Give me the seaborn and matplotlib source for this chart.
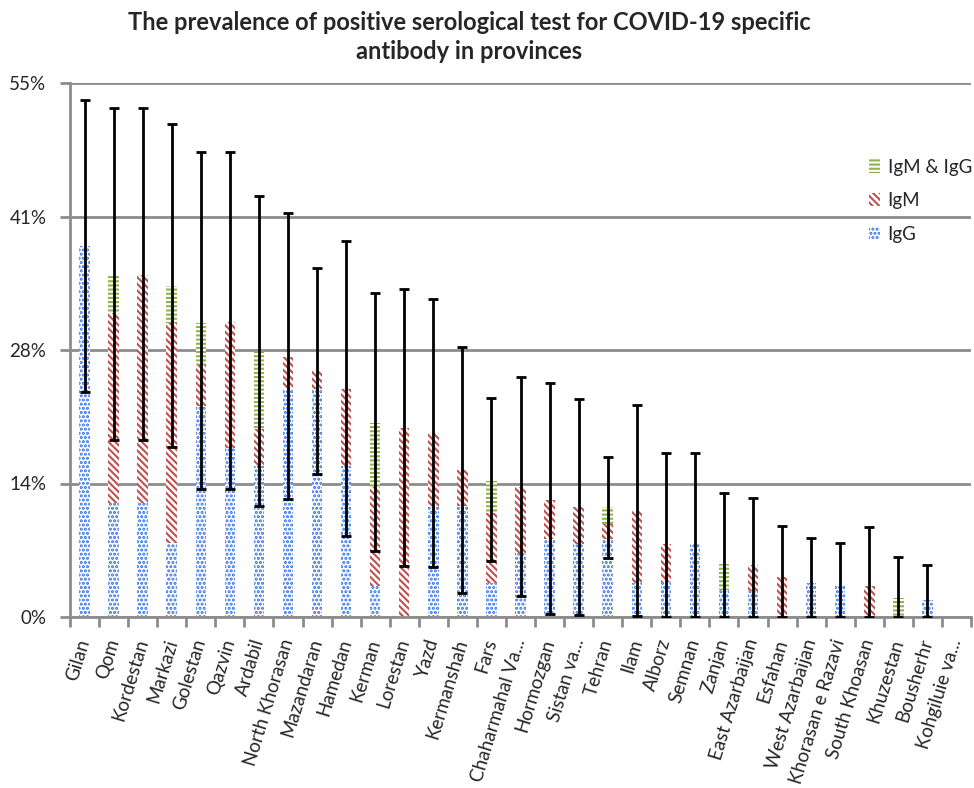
import numpy as np
import pandas as pd
import seaborn as sns
import matplotlib.pyplot as plt
from matplotlib.patches import Patch

# values (percent)
provinces = ["Gilan", "Qom", "Kordestan", "Markazi", "Golestan", "Qazvin", "Ardabil",
             "North Khorasan", "Mazandaran", "Hamedan", "Kerman", "Lorestan", "Yazd",
             "Kermanshah", "Fars", "Chaharmahal Va...", "Hormozgan", "Sistan va...",
             "Tehran", "Ilam", "Alborz", "Semnan", "Zanjan", "East Azarbaijan", "Esfahan",
             "West Azarbaijan", "Khorasan e Razavi", "South Khoasan", "Khuzestan",
             "Bousherhr", "Kohgiluie va..."]
igg = [38.2, 11.7, 11.7, 7.6, 21.7, 17.4, 15.6, 23.5, 23.5, 15.6, 3.2, 0.0, 11.3,
       11.4, 3.5, 6.6, 8.0, 7.5, 8.0, 3.5, 3.6, 7.5, 2.8, 2.7, 0.0, 3.5, 3.2, 0.0,
       0.0, 1.8, 0.0]
igm = [0.0, 19.6, 23.5, 22.7, 4.3, 13.0, 3.8, 3.3, 1.8, 7.9, 10.2, 19.5, 7.6,
       3.7, 7.2, 6.8, 4.1, 3.8, 1.6, 7.4, 3.9, 0.0, 0.0, 2.7, 4.1, 0.0, 0.0, 3.2,
       0.0, 0.0, 0.0]
igm_igg = [0.0, 3.8, 0.0, 3.8, 4.3, 0.0, 7.9, 0.0, 0.0, 0.0, 6.6, 0.0, 0.0,
           0.0, 3.3, 0.0, 0.0, 0.0, 1.7, 0.0, 0.0, 0.0, 2.7, 0.0, 0.0, 0.0, 0.0, 0.0,
           2.0, 0.0, 0.0]
ci_low = [23.2, 18.2, 18.2, 17.5, 13.2, 13.2, 11.4, 12.2, 14.7, 8.3, 6.8, 5.3, 5.1,
          2.5, 5.8, 2.2, 0.3, 0.2, 6.1, 0.1, 0.0, 0.0, 0.0, 0.0, 0.0, 0.0, 0.0, 0.0,
          0.0, 0.0, 0.0]
ci_high = [53.2, 52.4, 52.4, 50.8, 47.9, 47.9, 43.4, 41.6, 35.9, 38.7, 33.4, 33.8, 32.8,
           27.8, 22.6, 24.7, 24.1, 22.5, 16.5, 21.8, 16.9, 16.9, 12.8, 12.3, 9.4, 8.1,
           7.6, 9.3, 6.2, 5.4, 0.0]

ytick_vals = [0, 13.75, 27.5, 41.25, 55]
ytick_labels = ["0%", "14%", "28%", "41%", "55%"]

blue = "#2f6fe4"
red = "#c0504d"
green = "#8fb34a"
grid_gray = "#8c8c8c"
hatches = {'total': '----', 'igg_igm': '\\\\\\\\\\', 'IgG': '....'}

sns.set_theme(style="white")
plt.rcParams['font.family'] = ['Lato', 'DejaVu Sans']
plt.rcParams['hatch.linewidth'] = 1.5

df = pd.DataFrame({'province': provinces, 'IgG': igg, 'IgM': igm, 'IgM & IgG': igm_igg})
df['igg_igm'] = df['IgG'] + df['IgM']
df['total'] = df['igg_igm'] + df['IgM & IgG']

fig = plt.figure(figsize=(9.74, 7.88), dpi=100)
ax = fig.add_axes([70 / 974, 171 / 788, 901 / 974, 534 / 788])

# stacked bars drawn back to front
layers = [('total', green), ('igg_igm', red), ('IgG', blue)]
for col, c in layers:
    sns.barplot(data=df, x='province', y=col, color='white', width=0.36,
                errorbar=None, ax=ax, zorder=2)
    for bar in ax.containers[-1]:
        bar.set_facecolor('white')
        bar.set_edgecolor(c)
        bar.set_hatch(hatches[col])
        bar.set_linewidth(0)

# error bars only where there is an interval
x = np.arange(len(provinces))
tot = df['total'].values
lo = np.array(ci_low)
hi = np.array(ci_high)
m = hi > 0
ax.errorbar(x[m], tot[m], yerr=[tot[m] - lo[m], hi[m] - tot[m]], fmt='none', ecolor='black',
            elinewidth=2, capsize=3.5, capthick=2, zorder=4)

ax.set_xlim(-0.5, len(provinces) - 0.5)
ax.set_ylim(0, 55)
ax.set_yticks(ytick_vals)
ax.set_yticklabels(ytick_labels, fontsize=13.5)
ax.yaxis.grid(True, color=grid_gray, linewidth=2)
ax.set_axisbelow(True)
ax.tick_params(axis='y', which='major', left=True, length=7, width=2, color=grid_gray, pad=10)

ax.set_xticks(x)
ax.set_xticklabels(provinces, rotation=73, ha='right', rotation_mode='anchor',
                   va='center', fontsize=13.5)
ax.set_xticks(np.arange(-0.5, len(provinces)), minor=True)
ax.tick_params(axis='x', which='major', bottom=False, pad=10)
ax.tick_params(axis='x', which='minor', bottom=True, length=7, width=2, color=grid_gray)
ax.set_xlabel('')
ax.set_ylabel('')

for s in ['top', 'right']:
    ax.spines[s].set_visible(False)
for s in ['left', 'bottom']:
    ax.spines[s].set_color(grid_gray)
    ax.spines[s].set_linewidth(2)

handles = [Patch(facecolor='white', edgecolor=green, hatch=hatches['total'], linewidth=0, label='IgM & IgG'),
           Patch(facecolor='white', edgecolor=red, hatch=hatches['igg_igm'], linewidth=0, label='IgM'),
           Patch(facecolor='white', edgecolor=blue, hatch=hatches['IgG'], linewidth=0, label='IgG')]
ax.legend(handles=handles, loc='upper left', bbox_to_anchor=(0.868, 0.89), frameon=False,
          fontsize=13.5, handlelength=0.6, handleheight=0.7, handletextpad=0.4,
          labelspacing=0.9)

fig.text(0.482, 0.986, "The prevalence of positive serological test for COVID-19 specific\nantibody in provinces",
         ha='center', va='top', fontsize=17, fontweight='bold', linespacing=1.3)

fig.savefig("out.png", dpi=100)
